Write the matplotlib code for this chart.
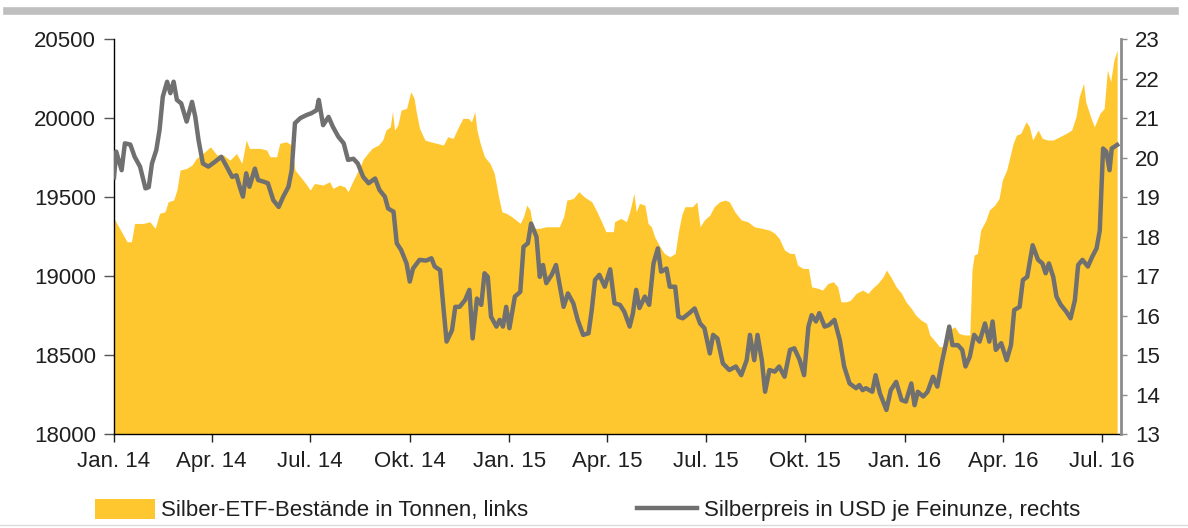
import numpy as np
import pandas as pd
import matplotlib
matplotlib.use("Agg")
import matplotlib.pyplot as plt
from matplotlib.lines import Line2D
from matplotlib.patches import Patch

plt.rcParams["font.family"] = ["Liberation Sans", "DejaVu Sans"]

START = pd.Timestamp("2014-01-01")

# Silber-ETF-Bestände (Tonnen, linke Achse): Tage seit 1.1.2014 / Wert
etf_days = [0, 6, 12, 16, 19, 27, 33, 38, 42, 47, 50, 55, 58, 61, 67, 72, 76, 82, 89, 95,
            101, 107, 113, 118, 122, 125, 135, 141, 144, 150, 153, 159, 164, 167, 172, 178, 181, 185, 193, 199,
            202, 208, 213, 216, 221, 227, 230, 233, 238, 244, 248, 251, 255, 257, 259, 262, 265, 270, 274, 277,
            279, 282, 287, 292, 298, 304, 308, 313, 318, 322, 327, 330, 333, 335, 338, 342, 347, 351, 355, 358,
            362, 367, 371, 375, 378, 381, 384, 387, 393, 399, 405, 411, 415, 418, 424, 429, 434, 441, 445, 450,
            454, 461, 462, 468, 473, 476, 480, 482, 485, 490, 493, 496, 499, 504, 508, 513, 518, 521, 524, 527,
            534, 538, 541, 545, 550, 554, 559, 564, 568, 573, 579, 585, 591, 598, 605, 610, 614, 619, 624, 628,
            631, 636, 641, 644, 650, 654, 659, 664, 668, 671, 676, 680, 685, 691, 696, 700, 705, 710, 713, 717,
            722, 727, 731, 736, 740, 745, 750, 753, 757, 762, 767, 771, 776, 780, 785, 790, 792, 794, 797, 800,
            805, 808, 813, 817, 820, 824, 827, 830, 833, 837, 842, 845, 848, 853, 857, 862, 867, 873, 879, 884,
            888, 891, 895, 897, 902, 905, 910, 914, 917, 920, 923, 926]
etf_values = [19365, 19291, 19217, 19217, 19333, 19333, 19344, 19302, 19397, 19407, 19470, 19481, 19544, 19671, 19681, 19703, 19745, 19776, 19818, 19766,
              19766, 19734, 19776, 19713, 19861, 19808, 19808, 19797, 19755, 19755, 19840, 19850, 19829, 19671, 19629, 19576, 19544, 19586, 19576, 19597,
              19555, 19576, 19565, 19534, 19608, 19690, 19740, 19766, 19808, 19829, 19861, 19924, 19945, 20040, 19924, 19956, 20051, 20061, 20167, 20124,
              20040, 19935, 19861, 19850, 19840, 19829, 19882, 19871, 19945, 19998, 19998, 19977, 20040, 19924, 19840, 19755, 19713, 19650, 19502, 19407,
              19397, 19376, 19355, 19333, 19376, 19449, 19418, 19302, 19302, 19312, 19312, 19312, 19376, 19481, 19491, 19534, 19502, 19470, 19418, 19344,
              19281, 19281, 19344, 19365, 19344, 19407, 19523, 19407, 19460, 19449, 19333, 19312, 19249, 19185, 19143, 19122, 19143, 19281, 19386, 19439,
              19439, 19470, 19312, 19355, 19386, 19439, 19470, 19481, 19470, 19407, 19355, 19344, 19312, 19302, 19291, 19270, 19238, 19164, 19143, 19143,
              19070, 19048, 19048, 18932, 18922, 18911, 18953, 18964, 18932, 18837, 18837, 18848, 18890, 18911, 18890, 18922, 18953, 18995, 19038, 18995,
              18932, 18890, 18837, 18795, 18753, 18721, 18700, 18627, 18595, 18553, 18553, 18658, 18679, 18637, 18627, 18627, 19038, 19133, 19143, 19291,
              19355, 19418, 19449, 19491, 19608, 19671, 19755, 19840, 19892, 19903, 19977, 19945, 19861, 19924, 19871, 19861, 19861, 19882, 19903, 19924,
              20008, 20135, 20220, 20103, 19998, 19945, 20029, 20061, 20304, 20230, 20367, 20430]

# Silberpreis (USD je Feinunze, rechte Achse)
price_days = [0, 2, 7, 10, 15, 19, 24, 29, 32, 35, 39, 42, 45, 49, 52, 55, 58, 62, 67, 72,
              75, 78, 82, 87, 93, 99, 104, 109, 113, 116, 119, 122, 125, 130, 133, 138, 142, 147, 152, 156,
              161, 164, 167, 172, 178, 182, 187, 189, 193, 198, 202, 207, 212, 216, 221, 225, 230, 235, 241, 245,
              250, 253, 258, 261, 265, 270, 273, 276, 282, 288, 293, 296, 301, 304, 307, 312, 315, 319, 324, 328,
              331, 335, 339, 342, 345, 348, 353, 356, 359, 362, 365, 370, 375, 378, 382, 385, 390, 393, 396, 399,
              404, 408, 411, 415, 419, 424, 428, 433, 438, 441, 444, 448, 453, 458, 462, 467, 471, 476, 479, 482,
              485, 490, 494, 498, 502, 505, 510, 513, 518, 521, 525, 531, 536, 541, 545, 550, 553, 557, 562, 568,
              574, 579, 584, 587, 591, 594, 598, 601, 605, 610, 614, 619, 624, 628, 633, 637, 641, 644, 648, 651,
              656, 660, 665, 670, 674, 679, 685, 688, 691, 694, 700, 703, 707, 713, 717, 722, 727, 731, 736, 739,
              742, 747, 751, 756, 760, 764, 768, 771, 774, 779, 783, 786, 790, 794, 799, 804, 808, 811, 814, 819,
              824, 828, 831, 836, 839, 843, 848, 853, 857, 860, 863, 867, 870, 874, 879, 883, 887, 890, 894, 899,
              903, 907, 910, 913, 916, 919, 921, 926]
price_values = [19.50, 20.15, 19.68, 20.36, 20.33, 20.02, 19.77, 19.22, 19.25, 19.85, 20.19, 20.70, 21.54, 21.92, 21.63, 21.92, 21.46, 21.37, 20.91, 21.41,
                21.03, 20.44, 19.85, 19.77, 19.89, 20.02, 19.77, 19.51, 19.55, 19.26, 19.01, 19.60, 19.26, 19.72, 19.43, 19.39, 19.35, 18.92, 18.75, 19.00,
                19.26, 19.68, 20.87, 21.00, 21.08, 21.12, 21.20, 21.46, 20.82, 21.03, 20.78, 20.53, 20.36, 19.94, 19.97, 19.85, 19.51, 19.35, 19.47, 19.18,
                19.01, 18.71, 18.63, 17.83, 17.66, 17.32, 16.86, 17.19, 17.41, 17.39, 17.45, 17.24, 17.15, 16.22, 15.34, 15.63, 16.22, 16.22, 16.39, 16.65,
                15.42, 16.43, 16.27, 17.07, 16.98, 15.97, 15.72, 15.89, 15.72, 16.22, 15.68, 16.48, 16.60, 17.74, 17.83, 18.33, 17.99, 16.98, 17.28, 16.82,
                17.03, 17.28, 16.82, 16.22, 16.56, 16.31, 15.89, 15.51, 15.55, 16.14, 16.90, 17.03, 16.73, 17.17, 16.31, 16.27, 16.10, 15.72, 16.06, 16.65,
                16.19, 16.48, 16.27, 17.32, 17.70, 17.11, 17.19, 16.73, 16.73, 15.97, 15.93, 16.06, 16.18, 15.80, 15.68, 15.04, 15.51, 15.42, 14.79, 14.62,
                14.71, 14.49, 14.87, 15.51, 14.87, 15.51, 14.87, 14.07, 14.62, 14.58, 14.71, 14.45, 15.13, 15.17, 14.87, 14.49, 15.72, 16.01, 15.85, 16.06,
                15.72, 15.76, 15.89, 15.38, 14.71, 14.28, 14.16, 14.24, 14.11, 14.16, 14.07, 14.49, 14.03, 13.61, 14.11, 14.32, 13.86, 13.82, 14.28, 13.73,
                14.07, 13.95, 14.07, 14.45, 14.20, 14.79, 15.30, 15.72, 15.25, 15.25, 15.13, 14.71, 14.96, 15.51, 15.34, 15.80, 15.34, 15.85, 15.13, 15.30,
                14.87, 15.25, 16.14, 16.22, 16.90, 16.98, 17.78, 17.41, 17.32, 17.07, 17.32, 16.98, 16.48, 16.27, 16.10, 15.93, 16.39, 17.28, 17.41, 17.24,
                17.49, 17.70, 18.16, 20.23, 20.15, 19.68, 20.23, 20.32]

tick_dates = ["2014-01-01", "2014-04-01", "2014-07-01", "2014-10-01", "2015-01-01", "2015-04-01",
              "2015-07-01", "2015-10-01", "2016-01-01", "2016-04-01", "2016-07-01"]
tick_labels = ["Jan. 14", "Apr. 14", "Jul. 14", "Okt. 14", "Jan. 15", "Apr. 15",
               "Jul. 15", "Okt. 15", "Jan. 16", "Apr. 16", "Jul. 16"]

GELB = "#FFC72F"
GRAU = "#707070"
TXT = "#1f1f1f"

etf_x = START + pd.to_timedelta(etf_days, unit="D")
price_x = START + pd.to_timedelta(price_days, unit="D")

fig = plt.figure(figsize=(11.88, 5.28), dpi=100)
ax = fig.add_axes([0.096, 0.178, 0.848, 0.748])
ax2 = ax.twinx()

ax.fill_between(etf_x, 18000, etf_values, color=GELB, linewidth=0)
ax2.plot(price_x, price_values, color=GRAU, linewidth=3.2, solid_joinstyle="round")

ax.set_xlim(START, START + pd.Timedelta(days=930))
ax.set_ylim(18000, 20500)
ax2.set_ylim(13, 23)
ax.set_yticks(np.arange(18000, 20501, 500))
ax2.set_yticks(np.arange(13, 24, 1))
ax.set_xticks(pd.to_datetime(tick_dates))
ax.set_xticklabels(tick_labels)

for a in (ax, ax2):
    a.spines["top"].set_visible(False)
ax.spines["right"].set_visible(False)
ax2.spines["left"].set_visible(False)
ax2.spines["bottom"].set_visible(False)
ax2.spines["right"].set_color("#8c8c8c")
ax2.spines["right"].set_linewidth(2.0)
ax.spines["left"].set_linewidth(1.0)
ax.spines["bottom"].set_linewidth(1.0)

ax.tick_params(axis="y", direction="out", length=7, width=1, color="#555555",
               labelsize=16, labelcolor=TXT, pad=6)
ax.tick_params(axis="x", direction="out", length=6, width=1, color="#222222",
               labelsize=16, labelcolor=TXT, pad=6)
ax2.tick_params(axis="y", direction="out", length=4, width=1, color="#8c8c8c",
                labelsize=16, labelcolor=TXT, pad=6)

# Balken oben und Linie unten
fig.add_artist(Line2D([0.006, 0.989], [0.979, 0.979], color="#bfbfbf", linewidth=5.5))
fig.add_artist(Line2D([0.0, 1.0], [0.006, 0.006], color="#dcdcdc", linewidth=1.0))

handles = [Patch(facecolor=GELB, edgecolor="none"),
           Line2D([0], [0], color=GRAU, linewidth=3.2)]
labels = ["Silber-ETF-Bestände in Tonnen, links", "Silberpreis in USD je Feinunze, rechts"]
fig.legend(handles, labels, loc="center", bbox_to_anchor=(0.4945, 0.034), ncol=2,
           frameon=False, fontsize=16, handlelength=2.7, handleheight=1.0,
           handletextpad=0.3, columnspacing=4.9, labelcolor=TXT)

fig.savefig("out.png", dpi=100)
